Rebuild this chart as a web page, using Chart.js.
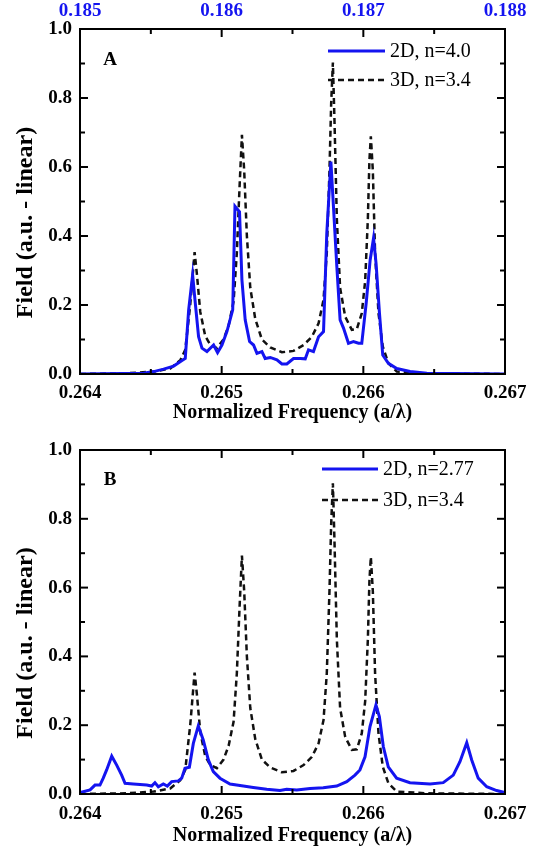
<!DOCTYPE html>
<html lang="en">
<head>
  <meta charset="UTF-8">
  <title>Field vs Normalized Frequency</title>
  <script src="https://cdn.jsdelivr.net/npm/chart.js"></script>
  <style>
    body { margin: 0; background: #fff; }
    #wrap { position: relative; width: 539px; height: 850px; }
    canvas { position: absolute; left: 0; }
    #chartA { top: 0; }
    #chartB { top: 425px; }
  </style>
</head>
<body>
  <div id="wrap">
    <canvas id="chartA" width="539" height="425"></canvas>
    <canvas id="chartB" width="539" height="425"></canvas>
  </div>

  <script>
    // 3D, n=3.4 (same curve in both panels)
    const freq3D = [0.264000, 0.264332, 0.264520, 0.264637, 0.264708, 0.264743, 0.264778, 0.264809, 0.264825, 0.264849,
      0.264884, 0.264919, 0.264966, 0.265013, 0.265049, 0.265084, 0.265107, 0.265126, 0.265143, 0.265159,
      0.265178, 0.265202, 0.265237, 0.265284, 0.265343, 0.265425, 0.265507, 0.265578, 0.265637, 0.265684,
      0.265719, 0.265742, 0.265761, 0.265773, 0.265785, 0.265796, 0.265813, 0.265836, 0.265872, 0.265919,
      0.265954, 0.265989, 0.266013, 0.266032, 0.266043, 0.266053, 0.266067, 0.266083, 0.266107, 0.266137,
      0.266177, 0.266236, 0.266448, 0.267000];
    const field3D = [0.000, 0.002, 0.007, 0.016, 0.040, 0.070, 0.200, 0.353, 0.290, 0.180,
      0.110, 0.085, 0.075, 0.100, 0.140, 0.210, 0.350, 0.540, 0.693, 0.590,
      0.400, 0.250, 0.160, 0.100, 0.077, 0.063, 0.067, 0.084, 0.108, 0.147,
      0.215, 0.350, 0.590, 0.785, 0.903, 0.740, 0.450, 0.250, 0.166, 0.128,
      0.130, 0.176, 0.270, 0.450, 0.620, 0.689, 0.590, 0.350, 0.176, 0.080,
      0.031, 0.007, 0.002, 0.000];

    // panel A: 2D, n=4.0
    const freqA2D = [0.264000, 0.264449, 0.264520, 0.264590, 0.264661, 0.264720, 0.264743, 0.264767, 0.264795, 0.264814,
      0.264837, 0.264861, 0.264896, 0.264943, 0.264971, 0.265002, 0.265037, 0.265078, 0.265094, 0.265126,
      0.265143, 0.265166, 0.265197, 0.265225, 0.265249, 0.265284, 0.265307, 0.265343, 0.265390, 0.265425,
      0.265460, 0.265507, 0.265554, 0.265590, 0.265613, 0.265648, 0.265684, 0.265719, 0.265742, 0.265771,
      0.265789, 0.265813, 0.265836, 0.265860, 0.265895, 0.265930, 0.265966, 0.265989, 0.266020, 0.266048,
      0.266072, 0.266090, 0.266114, 0.266137, 0.266177, 0.266236, 0.266330, 0.266448, 0.267000];
    const fieldA2D = [0.000, 0.002, 0.007, 0.014, 0.023, 0.039, 0.045, 0.186, 0.287, 0.205,
      0.108, 0.075, 0.065, 0.084, 0.062, 0.084, 0.123, 0.186, 0.486, 0.470,
      0.273, 0.157, 0.094, 0.084, 0.060, 0.065, 0.045, 0.048, 0.041, 0.029,
      0.029, 0.045, 0.045, 0.044, 0.070, 0.065, 0.108, 0.123, 0.408, 0.616,
      0.486, 0.311, 0.157, 0.133, 0.089, 0.094, 0.089, 0.089, 0.205, 0.330,
      0.394, 0.320, 0.176, 0.055, 0.031, 0.016, 0.007, 0.002, 0.000];

    // panel B: 2D, n=2.77
    const freqB2D = [0.264000, 0.264071, 0.264106, 0.264141, 0.264164, 0.264188, 0.264224, 0.264259, 0.264294, 0.264318,
      0.264376, 0.264471, 0.264506, 0.264529, 0.264553, 0.264588, 0.264616, 0.264647, 0.264694, 0.264718,
      0.264741, 0.264772, 0.264800, 0.264835, 0.264870, 0.264906, 0.264941, 0.264988, 0.265059, 0.265153,
      0.265223, 0.265318, 0.265412, 0.265459, 0.265530, 0.265624, 0.265717, 0.265812, 0.265883, 0.265941,
      0.265976, 0.266012, 0.266047, 0.266089, 0.266113, 0.266141, 0.266176, 0.266235, 0.266329, 0.266471,
      0.266564, 0.266635, 0.266682, 0.266730, 0.266765, 0.266811, 0.266871, 0.266941, 0.267000];
    const fieldB2D = [0.004, 0.012, 0.026, 0.026, 0.046, 0.070, 0.110, 0.084, 0.055, 0.031,
      0.029, 0.026, 0.023, 0.033, 0.021, 0.029, 0.023, 0.036, 0.038, 0.046,
      0.075, 0.078, 0.147, 0.198, 0.157, 0.099, 0.065, 0.046, 0.029, 0.023,
      0.019, 0.014, 0.010, 0.014, 0.012, 0.016, 0.018, 0.023, 0.036, 0.055,
      0.070, 0.108, 0.196, 0.259, 0.225, 0.138, 0.079, 0.046, 0.033, 0.029,
      0.033, 0.055, 0.094, 0.149, 0.099, 0.046, 0.021, 0.010, 0.004];

    const bottomRange = [0.264, 0.267];
    const topRange = [0.185, 0.188];
    const labelsA = ['2D, n=4.0', '3D, n=3.4'];
    const labelsB = ['2D, n=2.77', '3D, n=3.4'];

    const BLUE = '#1414f0';
    const SERIF = 'Liberation Serif';
    Chart.defaults.font.family = SERIF;
    Chart.defaults.color = '#000';

    const toPts = (xs, ys) => xs.map((x, i) => ({ x: x, y: ys[i] }));

    // frame with inward ticks, panel letter and legend
    const framePlugin = {
      id: 'frame',
      afterDatasetsDraw(chart, args, o) {
        const { ctx, chartArea: a, scales } = chart;
        const x = scales.x, y = scales.y;
        const seg = (x1, y1, x2, y2) => { ctx.beginPath(); ctx.moveTo(x1, y1); ctx.lineTo(x2, y2); ctx.stroke(); };
        ctx.save();
        ctx.strokeStyle = '#000';
        ctx.lineWidth = 2;
        ctx.strokeRect(a.left, a.top, a.right - a.left, a.bottom - a.top);
        for (let i = 0; i <= 6; i++) {
          const px = x.getPixelForValue(x.min + i * (x.max - x.min) / 6);
          const len = i % 2 === 0 ? 8 : 5;
          seg(px, a.bottom, px, a.bottom - len);
          seg(px, a.top, px, a.top + len);
        }
        for (let i = 0; i <= 10; i++) {
          const py = y.getPixelForValue(i / 10);
          const len = i % 2 === 0 ? 8 : 5;
          seg(a.left, py, a.left + len, py);
          seg(a.right, py, a.right - len, py);
        }
        // letter
        ctx.fillStyle = '#000';
        ctx.font = 'bold 19px ' + SERIF;
        ctx.textAlign = 'center';
        ctx.textBaseline = 'middle';
        ctx.fillText(o.letter, a.left + 30, a.top + o.letterDy);
        // legend
        ctx.font = '20px ' + SERIF;
        ctx.textAlign = 'left';
        chart.data.datasets.forEach((ds, i) => {
          const ly = a.top + o.rows[i];
          ctx.strokeStyle = ds.borderColor;
          ctx.lineWidth = ds.borderWidth;
          ctx.setLineDash(ds.borderDash || []);
          seg(a.right - o.lineFrom, ly, a.right - o.lineTo, ly);
          ctx.setLineDash([]);
          ctx.fillStyle = '#000';
          ctx.fillText(ds.label, a.right - o.textAt, ly + 1);
        });
        ctx.restore();
      }
    };

    const tickFont = { family: SERIF, size: 19, weight: 'bold' };
    const titleFont = { family: SERIF, size: 20, weight: 'bold' };
    const yTitleFont = { family: SERIF, size: 24, weight: 'bold' };
    const pad = '\u00A0'.repeat(7);

    function makeChart(id, blueX, blueY, labels, withTop, frameOpts, layoutPad, xHeight, xPad, titlePad) {
      const scales = {
        x: {
          type: 'linear', position: 'bottom', min: bottomRange[0], max: bottomRange[1],
          grid: { display: false, drawTicks: false }, border: { display: false },
          ticks: { stepSize: 0.001, padding: xPad, font: tickFont, color: '#000', maxRotation: 0, autoSkip: false,
                   callback: v => v.toFixed(3) },
          title: { display: true, text: 'Normalized Frequency (a/λ)', font: titleFont, color: '#000',
                   padding: { top: 0, bottom: titlePad } },
          afterFit: s => { s.height = xHeight; }
        },
        y: {
          min: 0, max: 1,
          grid: { display: false, drawTicks: false }, border: { display: false },
          ticks: { stepSize: 0.2, padding: 8, font: tickFont, color: '#000', callback: v => v.toFixed(1) },
          title: { display: true, text: 'Field (a.u. - linear)' + pad, font: yTitleFont, color: '#000',
                   padding: { top: 11, bottom: 0 } },
          afterFit: s => { s.width = 80; }
        }
      };
      if (withTop) {
        scales.x2 = {
          type: 'linear', position: 'top', min: topRange[0], max: topRange[1],
          grid: { display: false, drawTicks: false }, border: { display: false },
          ticks: { stepSize: 0.001, padding: 7, font: tickFont, color: BLUE, maxRotation: 0, autoSkip: false,
                   callback: v => v.toFixed(3) },
          afterFit: s => { s.height = 29; }
        };
      }
      return new Chart(document.getElementById(id), {
        type: 'line',
        data: {
          datasets: [
            { label: labels[0], data: toPts(blueX, blueY), borderColor: BLUE, borderWidth: 3,
              pointRadius: 0, tension: 0, fill: false },
            { label: labels[1], data: toPts(freq3D, field3D), borderColor: '#111', borderWidth: 2.5,
              borderDash: [6, 4], pointRadius: 0, tension: 0, fill: false }
          ]
        },
        options: {
          responsive: false, animation: false,
          layout: { padding: layoutPad },
          scales: scales,
          plugins: { legend: { display: false }, tooltip: { enabled: false }, frame: frameOpts }
        },
        plugins: [framePlugin]
      });
    }

    makeChart('chartA', freqA2D, fieldA2D, labelsA, true,
      { letter: 'A', letterDy: 31, rows: [22, 51], lineFrom: 177, lineTo: 120, textAt: 115 },
      { top: 0, right: 34, left: 0, bottom: 0 }, 51, 8, 0);
    makeChart('chartB', freqB2D, fieldB2D, labelsB, false,
      { letter: 'B', letterDy: 30, rows: [19, 50], lineFrom: 183, lineTo: 127, textAt: 122 },
      { top: 25, right: 34, left: 0, bottom: 0 }, 56, 9, 2);
  </script>
</body>
</html>
